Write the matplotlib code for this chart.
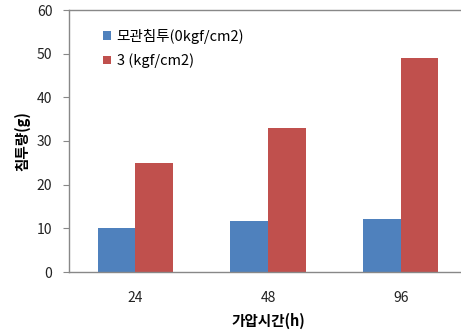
import matplotlib
matplotlib.use("Agg")
import matplotlib.pyplot as plt
import numpy as np

plt.rcParams['font.family'] = ['Noto Sans CJK KR', 'DejaVu Sans']

categories = ['24', '48', '96']
series_names = ['모관침투(0kgf/cm2)', '3 (kgf/cm2)']
blue_vals = [10.0, 11.7, 12.2]
red_vals = [25.0, 33.0, 49.0]
colors = ['#4F81BD', '#C0504D']

fig = plt.figure(figsize=(4.61, 3.31), dpi=100)
ax = fig.add_axes([69/461, 1-272/331, 398/461, 262/331])

x = np.arange(len(categories))
w = 0.285
ax.bar(x - w/2, blue_vals, w, color=colors[0], label=series_names[0])
ax.bar(x + w/2, red_vals, w, color=colors[1], label=series_names[1])

ax.set_xlim(-0.5, 2.5)
ax.set_ylim(0, 60)
ax.set_yticks(range(0, 61, 10))
ax.set_xticks(x)
ax.set_xticklabels(categories)
ax.tick_params(axis='x', length=0, pad=14, labelsize=10, colors='#222222')
ax.tick_params(axis='y', length=4, width=0.8, color='#888888', labelsize=10, labelcolor='#222222', pad=8)
for s in ['left', 'bottom', 'top']:
    ax.spines[s].set_color('#888888')
    ax.spines[s].set_linewidth(1.0)
ax.spines['right'].set_visible(False)

ax.set_xlabel('가압시간(h)', fontsize=10.5, fontweight='bold', labelpad=5)
ax.set_ylabel('침투량(g)', fontsize=10.5, fontweight='bold', labelpad=5)

leg = ax.legend(loc='upper left', bbox_to_anchor=(0.07, 0.95), frameon=False,
                fontsize=10.5, handlelength=0.55, handleheight=0.55, handletextpad=0.4,
                labelspacing=0.65, borderaxespad=0)

fig.savefig('out.png', dpi=100)
